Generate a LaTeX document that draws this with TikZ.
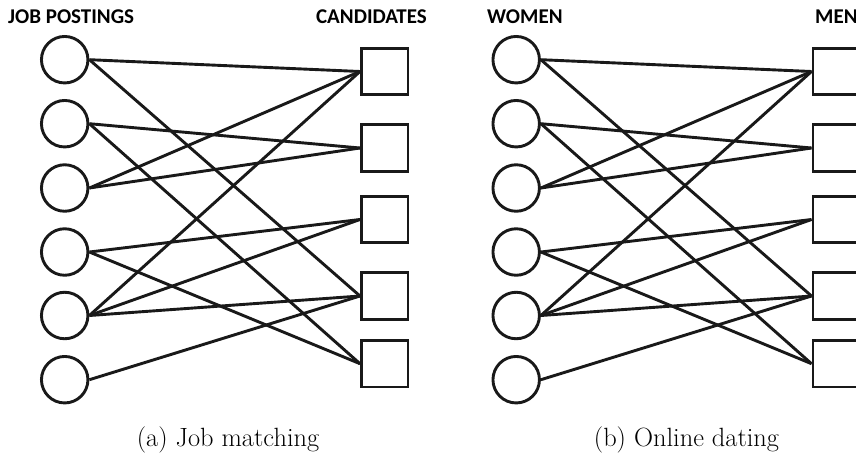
\documentclass[tikz,border=0pt]{standalone}
\usepackage{fontspec}
\newfontfamily\labelfont{Carlito}
\begin{document}
\begin{tikzpicture}[x=1pt,y=-1pt,
  jobcirc/.style={draw=black!90,circle,line width=2.9pt,minimum size=46.5pt,inner sep=0pt},
  candsq/.style={draw=black!90,rectangle,line width=2.9pt,minimum size=46.5pt,inner sep=0pt},
  edge/.style={draw=black!90,line width=2.9pt},
  headlbl/.style={font=\labelfont\bfseries\fontsize{21}{25}\selectfont,inner sep=0pt},
  caplbl/.style={font=\fontsize{26.4}{30}\selectfont,inner sep=0pt}]
\useasboundingbox (0,0) rectangle (856,456);
\clip (0,0) rectangle (856,456);
\foreach \p/\dx in {L/0,R/451.5}{
  \foreach \i/\y in {1/59.7,2/123.7,3/188,4/252,5/315.5,6/379.7}
    \node[jobcirc] (\p c\i) at (64.7+\dx,\y) {};
  \foreach \i/\y in {1/71.5,2/148,3/219.5,4/296,5/363.7}
    \node[candsq] (\p s\i) at (384.7+\dx,\y) {};
  \foreach \a/\b in {1/1,1/4,2/2,2/5,3/1,3/2,4/3,4/5,5/1,5/3,5/4,6/4}
    \draw[edge] (\p c\a.east) -- (\p s\b.west);
}
\node[headlbl,anchor=base west] (jp) at (8,23) {JOB POSTINGS};
\node[headlbl,anchor=base east] (cand) at (427,23) {CANDIDATES};
\node[headlbl,anchor=base west] (wom) at (487,23) {WOMEN};
\node[headlbl,anchor=base west] (men) at (815,23) {MEN};
\node[caplbl,anchor=base] (capa) at (228,446.5) {(a) Job matching};
\node[caplbl,anchor=base] (capb) at (686.5,446.5) {(b) Online dating};
\end{tikzpicture}
\end{document}
